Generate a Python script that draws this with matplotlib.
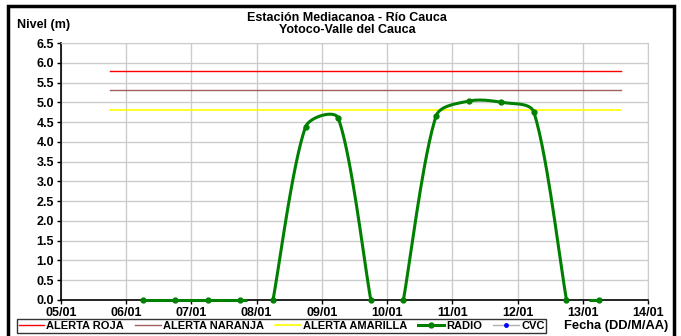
import numpy as np
import matplotlib
matplotlib.use("Agg")
import matplotlib.pyplot as plt
from matplotlib.lines import Line2D

plt.rcParams['font.family'] = ['Liberation Sans', 'DejaVu Sans']
plt.rcParams['font.weight'] = 'bold'

# datos (dia del mes de enero)
x_ticks = [5, 6, 7, 8, 9, 10, 11, 12, 13, 14]
x_labels = ['05/01', '06/01', '07/01', '08/01', '09/01', '10/01', '11/01', '12/01', '13/01', '14/01']
alert_x = [5.75, 13.58]
alerta_roja = 5.8
alerta_naranja = 5.3
alerta_amarilla = 4.8

# tramos de la serie RADIO (separados por huecos)
radio_tramos = [
    ([6.25, 6.75, 7.25, 7.75, 7.85], [0.0, 0.0, 0.0, 0.0, 0.0]),
    ([8.25, 8.75, 9.25, 9.75], [0.0, 4.38, 4.6, 0.0]),
    ([10.25, 10.75, 11.25, 11.75, 12.25, 12.75], [0.0, 4.65, 5.03, 5.0, 4.75, 0.0]),
    ([13.1, 13.25], [0.0, 0.0]),
]
radio_marcas = [[0, 1, 2, 3], [0, 1, 2, 3], [0, 1, 2, 3, 4, 5], [1]]

XPX = 65.3   # px por dia
YPX = 39.5   # px por metro


def suavizar(xs, ys, n=30):
    # curva suavizada tipo Excel (Bezier con tension ponderada por longitud)
    p = np.column_stack([np.array(xs) * XPX, np.array(ys) * YPX])
    if len(p) < 3:
        return np.array(xs), np.array(ys)
    out = [p[0]]
    m = len(p)
    for i in range(m - 1):
        p0 = p[i - 1] if i > 0 else p[i]
        p1, p2 = p[i], p[i + 1]
        p3 = p[i + 2] if i + 2 < m else p[i + 1]
        d01 = np.linalg.norm(p1 - p0)
        d12 = np.linalg.norm(p2 - p1)
        d23 = np.linalg.norm(p3 - p2)
        f1 = 2 * d12 / (d01 + d12) if d01 + d12 > 0 else 1
        f2 = 2 * d12 / (d12 + d23) if d12 + d23 > 0 else 1
        c1 = p1 + (p2 - p0) / 6 * min(f1, 1.2)
        c2 = p2 - (p3 - p1) / 6 * min(f2, 1.2)
        t = np.linspace(0, 1, n)[1:, None]
        seg = ((1 - t) ** 3) * p1 + 3 * ((1 - t) ** 2) * t * c1 + 3 * (1 - t) * t ** 2 * c2 + t ** 3 * p2
        out.extend(seg)
    out = np.array(out)
    return out[:, 0] / XPX, out[:, 1] / YPX


fig = plt.figure(figsize=(6.81, 3.36), dpi=100)
ax = fig.add_axes([61 / 681, 36 / 336, 587 / 681, 257 / 336])

green = '#008000'
ax.plot(alert_x, [alerta_roja] * 2, color='#FF0000', lw=1, zorder=3)
ax.plot(alert_x, [alerta_naranja] * 2, color='#A06060', lw=1, zorder=3)
ax.plot(alert_x, [alerta_amarilla] * 2, color='#FFFF00', lw=1.2, zorder=3)

for (xs, ys), mk in zip(radio_tramos, radio_marcas):
    sx, sy = suavizar(xs, ys)
    ax.plot(sx, sy, color=green, lw=2.2, zorder=4, solid_capstyle='butt', clip_on=False)
    ax.plot(np.array(xs)[mk], np.array(ys)[mk], 'o', color=green, ms=3.5, zorder=5, clip_on=False)

ax.set_xlim(5, 14)
ax.set_ylim(0, 6.5)
ax.set_xticks(x_ticks)
ax.set_xticklabels(x_labels)
ax.set_yticks(np.arange(0, 6.51, 0.5))
ax.set_yticklabels([f'{v:.1f}' for v in np.arange(0, 6.51, 0.5)])
ax.tick_params(labelsize=9, length=3, width=1, pad=2)
ax.grid(True, color='#CCCCCC', lw=1)
ax.set_axisbelow(True)
for s in ['top', 'right']:
    ax.spines[s].set_color('#CCCCCC')
for s in ['left', 'bottom']:
    ax.spines[s].set_color('black')
    ax.spines[s].set_linewidth(1.2)

fig.text(0.51, 0.947, 'Estación Mediacanoa - Río Cauca', ha='center', va='center', fontsize=9, fontweight='bold')
fig.text(0.51, 0.910, 'Yotoco-Valle del Cauca', ha='center', va='center', fontsize=9, fontweight='bold')
fig.text(17 / 681, 0.925, 'Nivel (m)', ha='left', va='center', fontsize=9, fontweight='bold')
fig.text(668 / 681, 10 / 336, 'Fecha (DD/M/AA)', ha='right', va='center', fontsize=9.3, fontweight='bold')

handles = [
    Line2D([], [], color='#FF0000', lw=1),
    Line2D([], [], color='#A06060', lw=1),
    Line2D([], [], color='#FFFF00', lw=1.2),
    Line2D([], [], color=green, lw=2.2, marker='o', ms=3.5),
    Line2D([], [], color='#B0B0B0', lw=1, marker='o', ms=2.5, mfc='blue', mec='blue'),
]
labels = ['ALERTA ROJA', 'ALERTA NARANJA', 'ALERTA AMARILLA', 'RADIO', 'CVC']
leg = fig.legend(handles, labels, ncol=5, loc='center left', bbox_to_anchor=(17 / 681, 10 / 336),
                 fontsize=8, frameon=True, fancybox=False, edgecolor='black',
                 handlelength=2.3, handletextpad=0.2, columnspacing=1.0,
                 borderpad=0.15, borderaxespad=0)
leg.get_frame().set_linewidth(1)

# marco exterior
fig.patches.append(plt.Rectangle((8 / 681, -0.02), 666 / 681, 1 - 6 / 336 + 0.02, transform=fig.transFigure,
                                 fill=False, edgecolor='black', lw=2.5))

fig.savefig('out.png', dpi=100)
